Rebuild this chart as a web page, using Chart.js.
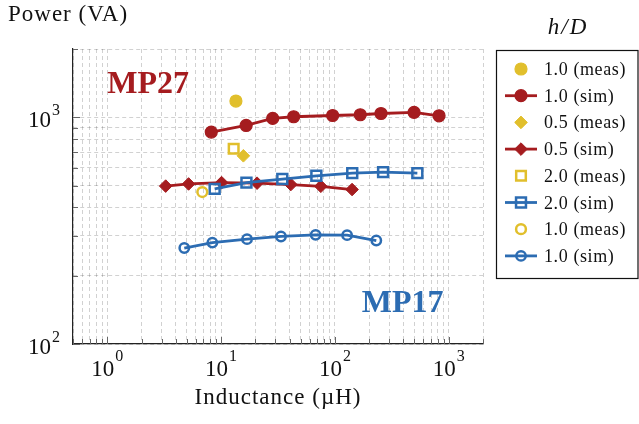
<!DOCTYPE html>
<html>
<head>
<meta charset="utf-8">
<script src="https://cdn.jsdelivr.net/npm/chart.js@4.4.1/dist/chart.umd.min.js"></script>
<style>
html,body{margin:0;padding:0;background:#fff;}
#wrap{width:639px;height:424px;position:relative;}
</style>
</head>
<body>
<div id="wrap"><canvas id="c" width="639" height="424"></canvas></div>
<script>
// ---- data (inductance in µH, power in VA) ----
const mp27_h10_meas_L = [13.5];
const mp27_h10_meas_P = [1179];
const mp27_h10_sim_L = [8.2, 16.6, 28.4, 43.4, 95.5, 167, 254, 496, 822];
const mp27_h10_sim_P = [860, 920, 988, 1005, 1018, 1026, 1039, 1050, 1015];
const mp27_h05_meas_L = [15.7];
const mp27_h05_meas_P = [676];
const mp27_h05_sim_L = [3.26, 5.18, 10.1, 20.7, 41.0, 75.2, 141.5];
const mp27_h05_sim_P = [497, 508, 515, 512, 505, 496, 480];
const mp17_h20_meas_L = [12.9];
const mp17_h20_meas_P = [726];
const mp17_h20_sim_L = [8.78, 16.7, 34.5, 68.7, 142, 265, 530];
const mp17_h20_sim_P = [483, 515, 534, 552, 567, 573, 567];
const mp17_h10_meas_L = [6.84];
const mp17_h10_meas_P = [468];
const mp17_h10_sim_L = [4.75, 8.38, 16.9, 33.6, 67.7, 128, 231];
const mp17_h10_sim_P = [265, 280, 290, 298, 303, 302, 286];

const legendLabels = ['1.0 (meas)', '1.0 (sim)', '0.5 (meas)', '0.5 (sim)', '2.0 (meas)', '2.0 (sim)', '1.0 (meas)', '1.0 (sim)'];
const legendTitle = 'h/D';
const xMajorTicks = [1, 10, 100, 1000];
const yMajorTicks = [100, 1000];
const xRange = [0.5, 2000];
const yRange = [100, 2000];
const xTitle = 'Inductance (\u00b5H)';
const yTitle = 'Power (VA)';
const annotations = [
  {text: 'MP27', x: 1.0, y: 1280, align: 'left', color: 'red'},
  {text: 'MP17', x: 900, y: 138, align: 'right', color: 'blue'}
];

const COL = {red: '#a51c1f', blue: '#2c6cb2', yellow: '#e1bf2c'};
const SERIF = '"Liberation Serif", "Times New Roman", serif';

function pts(L, P) { return L.map((v, i) => ({x: v, y: P[i]})); }

function logTicks(min, max) {
  const out = [];
  for (let e = Math.floor(Math.log10(min)); e <= Math.ceil(Math.log10(max)); e++) {
    for (let m = 1; m <= 9; m++) {
      const v = +(m * Math.pow(10, e)).toPrecision(6);
      if (v >= min - 1e-9 && v <= max + 1e-9) out.push(v);
    }
  }
  return out;
}

function ds(label, L, P, color, style, radius, bw, filled, line) {
  return {
    label: label,
    data: pts(L, P),
    showLine: line,
    borderColor: color,
    borderWidth: 2.8,
    pointStyle: style,
    pointRadius: radius,
    pointHoverRadius: radius,
    pointBorderWidth: bw,
    pointBorderColor: color,
    pointBackgroundColor: filled ? color : 'rgba(0,0,0,0)',
    fill: false,
    tension: 0
  };
}

const datasets = [
  ds(legendLabels[0], mp27_h10_meas_L, mp27_h10_meas_P, COL.yellow, 'circle', 6, 1.2, true, false),
  ds(legendLabels[1], mp27_h10_sim_L, mp27_h10_sim_P, COL.red, 'circle', 6, 1.2, true, true),
  ds(legendLabels[2], mp27_h05_meas_L, mp27_h05_meas_P, COL.yellow, 'rectRot', 6.3, 1, true, false),
  ds(legendLabels[3], mp27_h05_sim_L, mp27_h05_sim_P, COL.red, 'rectRot', 6.3, 1, true, true),
  ds(legendLabels[4], mp17_h20_meas_L, mp17_h20_meas_P, COL.yellow, 'rect', 6.8, 2.5, false, false),
  ds(legendLabels[5], mp17_h20_sim_L, mp17_h20_sim_P, COL.blue, 'rect', 7, 2.5, false, true),
  ds(legendLabels[6], mp17_h10_meas_L, mp17_h10_meas_P, COL.yellow, 'circle', 4.9, 2.5, false, false),
  ds(legendLabels[7], mp17_h10_sim_L, mp17_h10_sim_P, COL.blue, 'circle', 4.7, 2.5, false, true)
];
// later series drawn on top (like the reference)
datasets.forEach((d, i) => { d.order = datasets.length - i; });

const xTickVals = logTicks(xRange[0], xRange[1]);
const yTickVals = logTicks(yRange[0], yRange[1]);

function isMajor(v, list) { return list.some(m => Math.abs(m - v) / m < 1e-6); }

const decorPlugin = {
  id: 'decor',
  afterDraw(chart) {
    const ctx = chart.ctx;
    const xs = chart.scales.x, ys = chart.scales.y;
    const a = chart.chartArea;
    ctx.save();
    // inward ticks
    ctx.lineWidth = 1;
    ctx.strokeStyle = '#666';
    xTickVals.forEach(v => {
      const px = Math.round(xs.getPixelForValue(v)) + 0.5;
      const len = isMajor(v, xMajorTicks) ? 7 : 5;
      ctx.beginPath(); ctx.moveTo(px, a.bottom); ctx.lineTo(px, a.bottom - len); ctx.stroke();
    });
    yTickVals.forEach(v => {
      const py = Math.round(ys.getPixelForValue(v)) + 0.5;
      const len = isMajor(v, yMajorTicks) ? 7 : 5;
      ctx.beginPath(); ctx.moveTo(a.left, py); ctx.lineTo(a.left + len, py); ctx.stroke();
    });

    // tick labels 10^n
    ctx.fillStyle = '#111';
    ctx.textBaseline = 'alphabetic';
    const bigF = '23px ' + SERIF, supF = '16px ' + SERIF;
    xMajorTicks.forEach(v => {
      const e = String(Math.round(Math.log10(v)));
      const px = xs.getPixelForValue(v);
      ctx.font = bigF; const w1 = ctx.measureText('10').width;
      ctx.font = supF; const w2 = ctx.measureText(e).width;
      const start = px - (w1 + w2 + 1) / 2;
      ctx.textAlign = 'left';
      ctx.font = bigF; ctx.fillText('10', start, a.bottom + 32);
      ctx.font = supF; ctx.fillText(e, start + w1 + 1, a.bottom + 17);
    });
    yMajorTicks.forEach(v => {
      const e = String(Math.round(Math.log10(v)));
      const py = ys.getPixelForValue(v);
      ctx.font = supF; const w2 = ctx.measureText(e).width;
      const right = a.left - 13;
      ctx.textAlign = 'right';
      ctx.font = supF; ctx.fillText(e, right, py - 2.5);
      ctx.font = bigF; ctx.fillText('10', right - w2 - 1, py + 10);
    });

    // axis titles
    ctx.font = '23px ' + SERIF;
    try { ctx.letterSpacing = '1px'; } catch (err) {}
    ctx.textAlign = 'left';
    ctx.fillText(yTitle, 8, 21);
    ctx.textAlign = 'center';
    ctx.fillText(xTitle, (a.left + a.right) / 2, 404);
    try { ctx.letterSpacing = '0px'; } catch (err) {}

    // annotations
    ctx.font = 'bold 32px ' + SERIF;
    annotations.forEach(an => {
      ctx.fillStyle = COL[an.color];
      ctx.textAlign = an.align;
      ctx.fillText(an.text, xs.getPixelForValue(an.x), ys.getPixelForValue(an.y));
    });

    // legend
    ctx.fillStyle = '#111';
    ctx.font = 'italic 23px ' + SERIF;
    ctx.textAlign = 'center';
    try { ctx.letterSpacing = '2px'; } catch (err) {}
    ctx.fillText(legendTitle, 568, 34);
    try { ctx.letterSpacing = '0px'; } catch (err) {}
    ctx.strokeStyle = '#111';
    ctx.lineWidth = 1.2;
    ctx.strokeRect(496.5, 50.5, 141.5, 228);
    const rowY0 = 69, rowStep = 26.7;
    chart.data.datasets.forEach((d, i) => {
      const y = rowY0 + i * rowStep;
      if (d.showLine) {
        ctx.strokeStyle = d.borderColor;
        ctx.lineWidth = d.borderWidth;
        ctx.beginPath(); ctx.moveTo(505, y); ctx.lineTo(537, y); ctx.stroke();
      }
      ctx.strokeStyle = d.pointBorderColor;
      ctx.fillStyle = d.pointBackgroundColor;
      ctx.lineWidth = d.pointBorderWidth;
      Chart.helpers.drawPoint(ctx, {pointStyle: d.pointStyle, radius: d.pointRadius, borderWidth: d.pointBorderWidth, rotation: 0}, 521, y);
      ctx.fillStyle = '#111';
      ctx.font = '18px ' + SERIF;
      ctx.textAlign = 'left';
      try { ctx.letterSpacing = '0.6px'; } catch (err) {}
      ctx.fillText(d.label, 544, y + 6);
      try { ctx.letterSpacing = '0px'; } catch (err) {}
    });
    ctx.restore();
  }
};

const gridCommon = {
  display: true,
  drawTicks: false,
  color: 'rgba(0,0,0,0.18)',
  lineWidth: 1
};

new Chart(document.getElementById('c'), {
  type: 'scatter',
  data: {datasets: datasets},
  options: {
    responsive: false,
    animation: false,
    events: [],
    layout: {padding: {top: 49, right: 156, left: 0, bottom: 0}},
    plugins: {legend: {display: false}, tooltip: {enabled: false}},
    scales: {
      x: {
        type: 'logarithmic',
        min: xRange[0], max: xRange[1],
        afterBuildTicks(s) { s.ticks = xTickVals.map(v => ({value: v})); },
        afterFit(s) { s.height = 80; },
        ticks: {display: false},
        grid: gridCommon,
        border: {display: true, color: '#222', width: 1.2, dash: [4, 3]}
      },
      y: {
        type: 'logarithmic',
        min: yRange[0], max: yRange[1],
        afterBuildTicks(s) { s.ticks = yTickVals.map(v => ({value: v})); },
        afterFit(s) { s.width = 73; },
        ticks: {display: false},
        grid: gridCommon,
        border: {display: true, color: '#222', width: 1.2, dash: [4, 3]}
      }
    }
  },
  plugins: [decorPlugin]
});
</script>
</body>
</html>
